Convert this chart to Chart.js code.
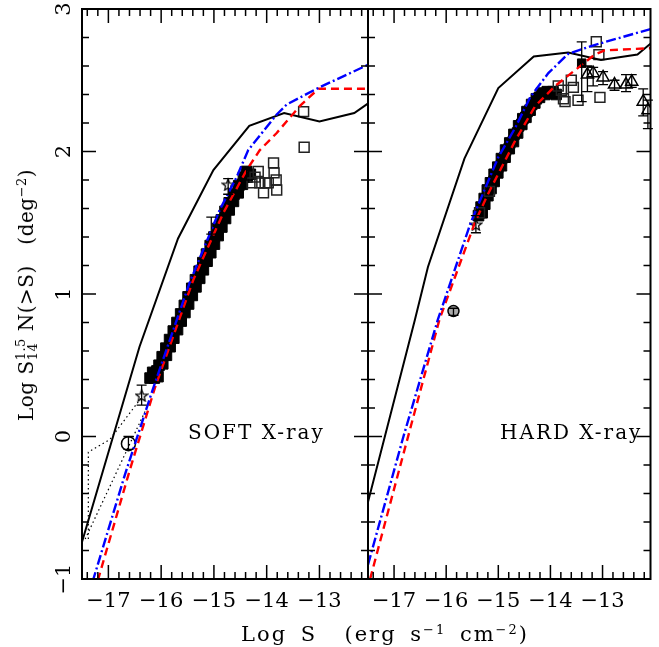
<!DOCTYPE html>
<html>
<head>
<meta charset="utf-8">
<script src="https://cdn.jsdelivr.net/npm/chart.js@4.4.1/dist/chart.umd.min.js"></script>
<style>
html,body{margin:0;padding:0;background:#fff;}
#wrap{position:relative;width:659px;height:647px;overflow:hidden;font-family:"DejaVu Serif",serif;color:#000;}
#wrap canvas{position:absolute;left:0;top:0;}
.lbl{position:absolute;font-size:20px;line-height:20px;white-space:nowrap;}
.panel{letter-spacing:2px;}
#ytitle{left:27px;top:295px;transform:translate(-50%,-50%) rotate(-90deg);letter-spacing:0.5px;}
#xtitle{left:385px;top:624px;transform:translateX(-50%);font-size:21px;letter-spacing:2px;word-spacing:5px;}
sup{font-size:13px;vertical-align:7px;line-height:0;}
.ss{display:inline-block;vertical-align:-4px;font-size:13px;line-height:12px;}
.ss span{display:block;}
</style>
</head>
<body>
<div id="wrap">
  <canvas id="soft" width="659" height="647"></canvas>
  <canvas id="hard" width="659" height="647"></canvas>
  <div class="lbl panel" style="left:188px;top:422px;">SOFT X-ray</div>
  <div class="lbl panel" style="left:500px;top:422px;">HARD X-ray</div>
  <div class="lbl" id="ytitle">Log S<span class="ss"><span>1.5</span><span>14</span></span> N(&gt;S) &nbsp;&nbsp;(deg<sup>−2</sup>)</div>
  <div class="lbl" id="xtitle">Log S &nbsp;(erg s<sup>−1</sup> cm<sup>−2</sup>)</div>
</div>
<script>
// axes
const xRange = [-17.5, -12.08];
const yRange = [-1, 3];
const xTickLabels = [-17, -16, -15, -14, -13];
const yTickLabels = [-1, 0, 1, 2, 3];

// SOFT panel: model curves [logS, logN]
const softSolid = [[-17.5,-0.74],[-16.41,0.63],[-15.68,1.39],[-15.01,1.87],[-14.33,2.18],[-13.67,2.27],[-13.0,2.21],[-12.34,2.27],[-12.07,2.34]];
const softBlue = [[-17.30,-1.02],[-16.68,-0.26],[-16.15,0.34],[-15.46,1.08],[-14.89,1.59],[-14.57,1.82],[-14.35,2.01],[-13.81,2.26],[-13.62,2.33],[-13.0,2.45],[-12.07,2.61]];
const softRed = [[-17.20,-1.01],[-16.59,-0.23],[-16.12,0.34],[-15.39,1.10],[-14.82,1.57],[-14.38,1.87],[-14.13,2.01],[-13.81,2.13],[-13.37,2.32],[-13.02,2.44],[-12.07,2.44]];
const softDotUpper = [[-17.38,-0.72],[-17.38,-0.11],[-16.97,-0.02],[-16.38,0.27]];
const softDotLower = [[-17.44,-0.72],[-16.68,-0.12],[-16.30,0.18]];

// SOFT panel: data
const softBand = [[-16.21,0.41],[-16.13,0.41],[-16.06,0.42],[-16.16,0.45],[-16.08,0.46],
  [-16.04,0.50],[-15.97,0.51],[-15.98,0.56],[-15.90,0.57],[-15.91,0.62],[-15.83,0.63],
  [-15.84,0.68],[-15.76,0.69],[-15.77,0.74],[-15.69,0.75],[-15.70,0.80],[-15.62,0.81],
  [-15.63,0.86],[-15.55,0.87],[-15.56,0.92],[-15.48,0.93],[-15.49,0.98],[-15.41,0.99],
  [-15.42,1.04],[-15.34,1.05],[-15.35,1.10],[-15.27,1.11],[-15.28,1.16],[-15.20,1.17],
  [-15.21,1.22],[-15.13,1.23],[-15.14,1.28],[-15.06,1.29],[-15.07,1.34],[-14.99,1.35],
  [-15.00,1.40],[-14.92,1.41],[-14.93,1.46],[-14.85,1.47],[-14.86,1.52],[-14.78,1.53],
  [-14.79,1.58],[-14.71,1.59],[-14.71,1.64],[-14.63,1.65],[-14.62,1.70],[-14.54,1.71],
  [-14.53,1.76],[-14.46,1.77],[-14.44,1.82],[-14.37,1.82],[-14.38,1.86],[-14.31,1.84]];
const softSquares = [[-14.28,1.78],[-14.22,1.82],[-14.16,1.86],[-14.13,1.78],[-14.06,1.71],[-14.03,1.78],[-13.97,1.78],
  [-13.87,1.92],[-13.86,1.85],[-13.82,1.80],[-13.81,1.73],[-13.30,2.28],[-13.29,2.03]];
const softStars = [[-16.37,0.29],[-14.73,1.77]];
const softCircles = [[-16.62,-0.05]];
const softErrors = [[-16.62,-0.09,0.0],[-16.37,0.22,0.36],[-14.73,1.70,1.81],[-15.05,1.42,1.54],[-14.38,1.80,1.89]];

// HARD panel: model curves
const hardSolid = [[-17.5,-0.46],[-16.6,0.82],[-16.35,1.19],[-15.65,1.95],[-15.0,2.445],[-14.32,2.667],[-13.66,2.695],[-13.03,2.643],[-12.33,2.68],[-12.07,2.76]];
const hardBlue = [[-17.5,-0.90],[-16.82,0.0],[-16.16,0.82],[-15.53,1.50],[-15.0,1.96],[-14.67,2.17],[-14.39,2.38],[-14.04,2.55],[-13.66,2.685],[-13.22,2.74],[-12.65,2.80],[-12.07,2.86]];
const hardRed = [[-17.46,-1.0],[-16.87,-0.19],[-16.13,0.82],[-15.45,1.50],[-15.2,1.70],[-14.67,2.08],[-14.29,2.32],[-13.91,2.46],[-13.53,2.57],[-13.15,2.68],[-12.96,2.71],[-12.07,2.725]];

// HARD panel: data
const hardBand = [[-15.38,1.55],[-15.31,1.57],[-15.33,1.61],[-15.26,1.63],[-15.27,1.67],[-15.20,1.69],[-15.21,1.73],[-15.14,1.74],
  [-15.15,1.78],[-15.08,1.79],[-15.08,1.84],[-15.01,1.85],[-15.01,1.89],[-14.94,1.90],[-14.94,1.95],[-14.87,1.96],
  [-14.86,2.01],[-14.79,2.02],[-14.78,2.06],[-14.71,2.07],[-14.70,2.12],[-14.63,2.13],[-14.61,2.18],[-14.55,2.19],
  [-14.53,2.23],[-14.47,2.24],[-14.45,2.28],[-14.39,2.29],[-14.36,2.33],[-14.30,2.34],[-14.27,2.37],[-14.21,2.38],
  [-14.17,2.41],[-14.11,2.40],[-14.06,2.42],[-14.00,2.41],[-13.95,2.42],[-13.89,2.40]];
const hardSquares = [[-15.36,1.57],[-15.17,1.72],[-13.85,2.46],[-13.79,2.43],[-13.75,2.37],[-13.72,2.35],[-13.60,2.50],
  [-13.56,2.45],[-13.47,2.36],[-13.05,2.38],[-13.12,2.77],[-13.07,2.68]];
const hardFilled = [[-13.40,2.62]];
const hardTriangles = [[-13.29,2.54],[-13.18,2.55],[-12.99,2.52],[-12.77,2.47],[-12.55,2.47],[-12.44,2.49],[-12.22,2.35],[-12.13,2.29]];
const hardStars = [[-15.43,1.49]];
const hardCircles = [[-15.86,0.88]];
const hardErrors = [[-15.86,0.85,0.90],[-15.43,1.43,1.55],[-13.40,2.35,2.77],[-13.29,2.42,2.60],[-13.18,2.46,2.59],
  [-12.99,2.47,2.56],[-12.77,2.43,2.50],[-12.55,2.42,2.54],[-12.44,2.45,2.54],[-12.22,2.25,2.44],[-12.13,2.16,2.36]];

const pts = arr => arr.map(p => ({x: p[0], y: p[1]}));

// open five-point star used as a point style
function starSymbol(size) {
  const c = document.createElement('canvas');
  c.width = c.height = size;
  const g = c.getContext('2d');
  const cx = size / 2, cy = size / 2 + 1, ro = size / 2 - 1, ri = ro * 0.45;
  g.beginPath();
  for (let i = 0; i < 10; i++) {
    const r = i % 2 ? ri : ro;
    const a = -Math.PI / 2 + i * Math.PI / 5;
    g.lineTo(cx + r * Math.cos(a), cy + r * Math.sin(a));
  }
  g.closePath();
  g.strokeStyle = '#000';
  g.lineWidth = 1.3;
  g.stroke();
  return c;
}
const star = starSymbol(14);

function line(data, color, dash, width) {
  return {data: pts(data), showLine: true, borderColor: color, borderWidth: width || 2,
    borderDash: dash || [], pointRadius: 0, fill: false, tension: 0};
}
function marks(data, style, r, fill, border, bw) {
  return {data: pts(data), showLine: false, pointStyle: style, pointRadius: r,
    pointBackgroundColor: fill, pointBorderColor: border, pointBorderWidth: bw || 1.5};
}

// frame, inward ticks, tick labels and error bars
const framePlugin = {
  id: 'frame',
  afterDatasetsDraw(chart, args, opts) {
    const {ctx, chartArea: a, scales: {x, y}} = chart;
    ctx.save();
    // error bars
    ctx.strokeStyle = '#000';
    ctx.lineWidth = 1.3;
    ctx.beginPath();
    (opts.errors || []).forEach(e => {
      const px = x.getPixelForValue(e[0]);
      const lo = y.getPixelForValue(e[1]), hi = y.getPixelForValue(e[2]);
      ctx.moveTo(px, lo); ctx.lineTo(px, hi);
      ctx.moveTo(px - 5, lo); ctx.lineTo(px + 5, lo);
      ctx.moveTo(px - 5, hi); ctx.lineTo(px + 5, hi);
    });
    ctx.stroke();

    ctx.lineWidth = 2;
    ctx.strokeRect(a.left, a.top, a.right - a.left, a.bottom - a.top);
    ctx.lineWidth = 1.5;
    ctx.beginPath();
    for (let v = Math.ceil(xRange[0] * 5) / 5; v <= xRange[1] + 1e-9; v += 0.2) {
      const major = Math.abs(v - Math.round(v)) < 1e-6;
      const len = major ? 14 : 7;
      const px = x.getPixelForValue(v);
      ctx.moveTo(px, a.bottom); ctx.lineTo(px, a.bottom - len);
      ctx.moveTo(px, a.top); ctx.lineTo(px, a.top + len);
    }
    for (let v = yRange[0]; v <= yRange[1] + 1e-9; v += 0.2) {
      const major = Math.abs(v - Math.round(v)) < 1e-6;
      const len = major ? 14 : 7;
      const py = y.getPixelForValue(v);
      ctx.moveTo(a.left, py); ctx.lineTo(a.left + len, py);
      ctx.moveTo(a.right, py); ctx.lineTo(a.right - len, py);
    }
    ctx.stroke();

    ctx.fillStyle = '#000';
    ctx.font = '21px "DejaVu Serif"';
    ctx.textAlign = 'center';
    ctx.textBaseline = 'alphabetic';
    xTickLabels.forEach(v => {
      ctx.fillText(String(v).replace('-', '\u2212'), x.getPixelForValue(v), 607);
    });
    if (opts.yLabels) {
      yTickLabels.forEach(v => {
        ctx.save();
        ctx.translate(70, y.getPixelForValue(v));
        ctx.rotate(-Math.PI / 2);
        ctx.fillText(String(v).replace('-', '\u2212'), 0, 0);
        ctx.restore();
      });
    }
    ctx.restore();
  }
};

function makeChart(id, datasets, padding, opts) {
  return new Chart(document.getElementById(id), {
    type: 'scatter',
    data: {datasets: datasets},
    options: {
      responsive: false,
      animation: false,
      layout: {padding: padding},
      plugins: {legend: {display: false}, tooltip: {enabled: false}, frame: opts},
      scales: {
        x: {type: 'linear', min: xRange[0], max: xRange[1], display: false},
        y: {type: 'linear', min: yRange[0], max: yRange[1], display: false}
      }
    },
    plugins: [framePlugin]
  });
}

const softChart = makeChart('soft', [
  line(softBlue, '#0000ff', [10, 3, 2, 3], 2.4),
  line(softRed, '#ff0000', [8, 5], 2.4),
  line(softSolid, '#000000'),
  line(softDotUpper, '#000000', [1.5, 3], 1.2),
  line(softDotLower, '#000000', [1.5, 3], 1.2),
  marks(softStars, star, 7, 'rgba(0,0,0,0)', '#000', 1.5),
  marks(softCircles, 'circle', 7, 'rgba(0,0,0,0)', '#000', 1.5),
  marks(softSquares, 'rect', 7, 'rgba(0,0,0,0)', '#222', 1.5),
  marks(softBand, 'rect', 7.5, '#000', '#000', 1)
], {left: 82, right: 291, top: 9, bottom: 68}, {yLabels: true, errors: softErrors});

const hardChart = makeChart('hard', [
  line(hardBlue, '#0000ff', [10, 3, 2, 3], 2.4),
  line(hardRed, '#ff0000', [8, 5], 2.4),
  line(hardSolid, '#000000'),
  marks(hardStars, star, 7, 'rgba(0,0,0,0)', '#000', 1.5),
  marks(hardCircles, 'circle', 5.5, '#aaaaaa', '#000', 1.5),
  marks(hardTriangles, 'triangle', 7, 'rgba(0,0,0,0)', '#000', 1.5),
  marks(hardFilled, 'rect', 6, '#000', '#000', 1),
  marks(hardSquares, 'rect', 7, 'rgba(255,255,255,0)', '#222', 1.5),
  marks(hardBand, 'rect', 7.5, '#000', '#000', 1)
], {left: 368, right: 6, top: 9, bottom: 68}, {yLabels: false, errors: hardErrors});
</script>
</body>
</html>
